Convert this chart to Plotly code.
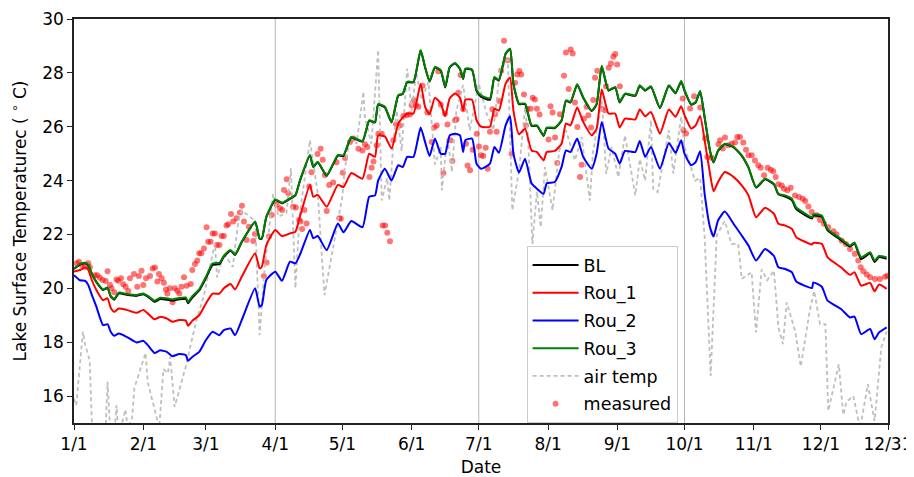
import plotly.graph_objects as go

# day of year (0 = 1/1)
days = [
    0, 2.7, 5, 6.4, 8, 10, 13, 15, 16.4, 18,
    20, 23.5, 28, 31, 33, 36, 38.5, 41.5, 44, 47,
    50, 51, 53, 56, 59, 62, 65, 67, 70, 72,
    75, 81, 83, 84, 86, 90, 93, 96.6, 99, 101,
    105.5, 107, 109, 113, 118, 120.5, 124, 129, 132, 134.6,
    136, 139, 142, 145, 147, 149, 151.8, 155, 157, 159,
    161.4, 164, 166, 168, 170.4, 172.6, 174, 175, 178, 180,
    182, 186, 188, 190, 193, 195, 196.5, 199, 201.7, 204.6,
    207, 210, 211.4, 215, 218, 220, 222, 225, 227.7, 231.5,
    233.7, 236, 239, 242, 244, 246.4, 251, 253, 255.4, 258,
    262, 266, 269, 271.5, 273, 276, 278, 280, 282, 284.4,
    286, 288, 291, 295, 298.6, 301.6, 305, 309, 313, 315,
    318, 321, 323, 330, 330.6, 334.4, 337, 343, 347, 349,
    352, 356, 358, 360, 363.4,
]
rou_3 = [
    20.74, 20.9, 20.95, 20.87, 20.55, 20.25, 19.96, 20.03, 19.72, 19.6,
    19.84, 19.79, 19.75, 19.81, 19.72, 19.54, 19.65, 19.63, 19.59, 19.64,
    19.66, 19.5, 19.72, 19.96, 20.43, 20.93, 20.95, 21.2, 21.42, 21.26,
    21.73, 22.48, 21.86, 21.86, 22.66, 23.3, 23.18, 23.34, 23.47, 24.0,
    24.95, 24.52, 24.7, 24.2, 24.95, 24.94, 25.62, 25.47, 26.24, 26.18,
    26.84, 26.74, 26.18, 27.17, 27.23, 27.67, 27.67, 28.85, 28.22, 27.7,
    28.22, 28.1, 27.48, 28.22, 28.37, 28.16, 27.79, 28.16, 28.13, 27.36,
    27.17, 27.05, 27.85, 27.73, 28.72, 28.9, 27.6, 26.86, 26.86, 26.05,
    26.05, 25.68, 25.97, 25.97, 26.24, 26.98, 26.92, 27.58, 27.1, 26.6,
    26.85, 28.26, 27.36, 27.48, 26.92, 27.23, 27.17, 27.54, 27.36, 27.5,
    26.71, 27.54, 27.26, 27.7, 27.36, 26.84, 26.92, 27.33, 26.36, 25.12,
    24.69, 25.12, 25.37, 25.25, 24.94, 24.5, 23.76, 24.07, 23.88, 23.51,
    23.45, 23.33, 23.0, 22.64, 22.75, 22.7, 22.2, 21.84, 21.59, 21.7,
    21.15, 21.34, 21.03, 21.2, 21.15,
]
bl = [
    20.72, 20.88, 20.93, 20.85, 20.53, 20.23, 19.94, 20.01, 19.7, 19.58,
    19.81, 19.76, 19.72, 19.78, 19.69, 19.5, 19.6, 19.58, 19.54, 19.59,
    19.61, 19.45, 19.67, 19.92, 20.38, 20.87, 20.9, 21.17, 21.4, 21.24,
    21.71, 22.46, 21.84, 21.84, 22.64, 23.28, 23.16, 23.32, 23.45, 23.98,
    24.93, 24.5, 24.68, 24.18, 24.93, 24.92, 25.6, 25.45, 26.22, 26.16,
    26.82, 26.72, 26.16, 27.15, 27.21, 27.65, 27.65, 28.83, 28.2, 27.68,
    28.2, 28.08, 27.46, 28.2, 28.35, 28.14, 27.77, 28.14, 28.11, 27.33,
    27.12, 27.0, 27.82, 27.71, 28.7, 28.88, 27.58, 26.84, 26.84, 26.03,
    26.03, 25.66, 25.95, 25.95, 26.22, 26.96, 26.9, 27.56, 27.08, 26.58,
    26.83, 28.24, 27.34, 27.46, 26.9, 27.21, 27.15, 27.52, 27.34, 27.48,
    26.69, 27.52, 27.24, 27.68, 27.34, 26.82, 26.9, 27.31, 26.34, 25.1,
    24.67, 25.1, 25.35, 25.23, 24.92, 24.48, 23.74, 24.05, 23.86, 23.49,
    23.41, 23.28, 22.94, 22.59, 22.7, 22.66, 22.15, 21.79, 21.55, 21.66,
    21.09, 21.29, 20.98, 21.16, 21.1,
]
rou_1 = [
    20.62, 20.68, 20.77, 20.68, 20.3, 19.94, 19.56, 19.63, 19.28, 19.13,
    19.25, 19.2, 19.09, 19.2, 19.07, 18.85, 18.94, 18.88, 18.76, 18.82,
    18.8, 18.61, 18.8, 19.0, 19.44, 19.8, 19.8, 20.0, 20.16, 19.96,
    20.43, 21.3, 20.74, 20.8, 21.6, 22.17, 21.94, 22.04, 22.1, 22.66,
    23.84, 23.4, 23.47, 23.03, 23.84, 23.76, 24.28, 24.07, 25.0, 24.88,
    25.68, 25.64, 25.19, 26.12, 26.34, 26.49, 26.49, 27.6, 26.74, 26.46,
    27.08, 26.86, 26.39, 27.05, 27.23, 27.08, 26.6, 27.0, 27.0, 26.24,
    26.0, 26.0, 26.67, 26.6, 27.6, 27.83, 26.6, 25.72, 25.93, 25.12,
    25.06, 24.75, 25.06, 25.1, 25.37, 26.12, 26.05, 26.71, 26.18, 25.68,
    25.93, 27.38, 26.49, 26.49, 25.97, 26.3, 26.27, 26.64, 26.39, 26.55,
    25.74, 26.64, 26.37, 26.76, 26.43, 25.93, 26.05, 26.4, 25.5, 24.26,
    23.6, 23.95, 24.32, 24.13, 23.82, 23.45, 22.64, 22.99, 22.77, 22.4,
    22.33, 22.21, 21.9, 21.63, 21.69, 21.65, 21.15, 20.78, 20.5, 20.6,
    20.1, 20.2, 19.89, 20.14, 19.98,
]
rou_2 = [
    20.49, 20.3, 20.28, 20.12, 19.75, 19.32, 18.63, 18.67, 18.39, 18.24,
    18.32, 18.2, 17.99, 18.05, 17.89, 17.6, 17.7, 17.64, 17.48, 17.56,
    17.52, 17.31, 17.46, 17.64, 18.08, 18.39, 18.26, 18.45, 18.51, 18.26,
    18.82, 20.0, 19.32, 19.38, 20.31, 20.62, 20.28, 20.99, 20.93, 21.24,
    22.17, 21.86, 21.94, 21.42, 22.41, 22.08, 22.5, 22.27, 23.4, 23.45,
    24.0, 24.44, 24.0, 24.57, 24.5, 24.88, 24.88, 25.97, 25.43, 24.91,
    25.56, 25.0, 25.0, 25.68, 25.74, 25.68, 25.06, 25.5, 25.56, 24.63,
    24.44, 24.63, 25.25, 25.03, 26.05, 26.39, 25.0, 24.3, 24.81, 23.9,
    23.7, 23.51, 23.9, 23.95, 24.5, 25.12, 25.06, 25.56, 24.88, 24.44,
    25.0, 26.18, 25.19, 25.0, 24.63, 25.1, 25.06, 25.47, 24.88, 25.25,
    24.44, 25.4, 25.03, 25.5, 25.0, 24.57, 24.69, 25.09, 23.51, 22.27,
    21.92, 22.52, 22.85, 22.39, 21.96, 21.59, 21.03, 21.46, 21.2, 20.78,
    20.72, 20.6, 20.25, 20.01, 20.22, 20.06, 19.54, 19.23, 18.92, 18.95,
    18.3, 18.49, 18.11, 18.36, 18.55,
]

air_days = [
    0, 1, 4, 5, 7, 8, 9, 14, 15, 16, 18, 19, 20, 23, 24, 26, 27, 32, 33, 37,
    38, 40, 42, 43, 45, 50, 53, 55, 58, 63, 64, 67, 71, 73.5, 75, 81, 83, 85, 89, 91.5,
    95, 97, 99, 101, 105.5, 109, 112, 114.5, 117.5, 120, 121, 123.4, 126.4, 129.4, 130, 133, 136, 137.6, 140, 141,
    143, 144.3, 146.5, 149, 151, 153, 155.5, 158.5, 161.4, 164, 164.5, 167, 169, 171, 174, 177, 181, 184.5, 187.5, 190.5,
    194, 196, 199, 201.7, 203, 205, 207, 208.7, 210.6, 214, 217, 220, 224, 227, 230.7, 232, 236, 238, 240.4, 243.4,
    246.4, 251, 253, 255.4, 258, 259, 261, 266, 268, 271.5, 273, 277.7, 280, 282, 284.7, 287.4, 291, 294, 297, 298.6,
    303, 305, 307.5, 310, 313, 315, 317, 318.7, 322.5, 325, 329, 331, 333.6, 336, 337.3, 342, 344, 345.5, 348.5, 351.5,
    355, 358, 361, 363.4,
]
air_temp = [
    15.9, 15.66, 18.39, 17.9, 17.33, 15.0, 14.5, 14.5, 16.53, 15.0, 14.5, 15.66, 14.5, 15.5, 14.8, 15.2, 16.3, 17.6, 16.5, 15.2,
    14.7, 17.0, 16.85, 17.46, 15.6, 17.1, 18.2, 18.9, 19.7, 21.67, 20.4, 21.3, 20.8, 22.5, 22.9, 22.5, 18.26, 20.55, 23.5, 22.66,
    22.8, 24.46, 20.0, 22.8, 25.5, 23.53, 19.75, 20.9, 22.4, 23.4, 24.4, 25.6, 25.37, 27.3, 26.4, 25.37, 28.85, 23.26, 24.1, 23.26,
    25.62, 26.6, 25.1, 28.16, 26.6, 28.0, 27.0, 27.67, 24.6, 25.25, 23.64, 25.62, 24.32, 26.6, 27.55, 25.87, 27.6, 26.5, 25.87, 28.1,
    28.5, 22.9, 24.38, 26.7, 25.7, 21.65, 23.6, 22.27, 24.5, 22.9, 25.1, 25.87, 24.75, 25.62, 23.26, 25.0, 27.0, 24.25, 25.25, 24.13,
    25.68, 23.45, 24.8, 24.0, 26.24, 23.7, 23.57, 25.87, 24.26, 26.37, 25.25, 24.0, 24.1, 21.9, 16.75, 21.96, 22.5, 21.65, 21.65, 20.35,
    20.6, 18.36, 20.7, 20.3, 20.66, 18.55, 17.93, 19.48, 18.4, 17.1, 19.17, 19.9, 18.67, 18.67, 15.45, 17.18, 15.3, 15.8, 16.0, 14.8,
    16.44, 15.07, 17.8, 18.4,
]

measured_days = [
    1.2, 2.2, 3.4, 4.9, 6.4, 7.1, 9.4, 10.4, 11.6, 12.8, 14.2, 15, 16.1, 16.8, 18, 19, 19.8, 21, 22, 23.1,
    24.3, 25, 26.8, 28.3, 29, 30.2, 31, 32.2, 34, 35.2, 36.2, 37.3, 38, 39.2, 40.2, 41.1, 41.7, 42.9, 44.1, 45.1,
    46.2, 47.1, 48.1, 49.2, 50.4, 52.2, 52.9, 54.1, 55.1, 56, 56.9, 58.1, 59.3, 60, 61.1, 62, 63, 63.8, 65, 66,
    67, 68.2, 69, 70.2, 71.2, 72.7, 74.2, 75.1, 76, 77.2, 78.2, 80.2, 80.9, 84.9, 86.1, 87.2, 88.4, 90.6, 92.1, 93.1,
    93.9, 95.1, 95.8, 98, 99.2, 100.7, 101.3, 102, 103, 104, 105.2, 106.2, 108.9, 110.3, 111.2, 112.2, 113, 114.1, 115.9, 117.4,
    118.6, 119.3, 120.2, 121.2, 123.4, 124.9, 127.2, 129, 130.1, 131.2, 132.1, 133.1, 133.9, 135.4, 136.1, 137.6, 138, 139.1, 140.1, 141.3,
    142.8, 144, 145.8, 147.3, 148.8, 150.3, 151, 152, 152.9, 154, 155.9, 158, 160, 161.1, 162.2, 162.9, 164, 165.2, 165.9, 167,
    168.4, 169.2, 170.4, 171.1, 171.9, 172.9, 174.1, 175.3, 176, 177.1, 178.3, 180.1, 181.1, 182, 183, 184.1, 185, 186, 187.1, 188.3,
    189, 190.2, 191, 192.3, 193.9, 195.7, 197.2, 198.2, 199.1, 200, 201.2, 202.1, 202.7, 204.2, 205.1, 206.1, 207, 208.2, 212.2, 213.1,
    214, 215.1, 216.1, 217.3, 219.1, 220, 221.2, 222.1, 223, 224, 225.1, 226.3, 227, 228, 229.2, 230, 231.2, 232.2, 233, 234,
    236, 237.4, 237.9, 239.1, 240.1, 241.2, 242, 242.9, 244.1, 272.2, 272.5, 273.7, 275.5, 277.3, 280, 282.2, 283.2, 285.2, 288.2, 288.9,
    290.1, 291.1, 292.6, 294.1, 295.6, 296.6, 297.8, 299.3, 300.5, 301.6, 303.1, 304.5, 306, 307.1, 308.6, 310.2, 311.6, 312.7, 313.8, 315,
    316.5, 317.5, 319, 320.5, 322.4, 324.2, 325.9, 327, 328.4, 329.9, 332.1, 333.6, 335.4, 337.3, 339.6, 341, 343.3, 345.2, 347, 349.2,
    350.7, 351.8, 353, 354.5, 356, 358.2, 360.4, 362.7, 363.8,
]
measured = [
    20.93, 20.99, 20.87, 20.8, 20.93, 20.78, 20.49, 20.49, 20.39, 20.31, 20.27, 20.63, 20.12, 20.0, 19.85, 20.33, 20.28, 20.37, 20.15, 20.06,
    19.9, 20.37, 20.53, 20.06, 20.46, 20.65, 20.12, 20.37, 20.46, 20.74, 20.77, 20.25, 20.53, 20.37, 20.21, 19.96, 19.81, 20.0, 19.48, 20.0,
    19.91, 19.81, 20.06, 20.41, 20.1, 20.16, 20.68, 20.9, 21.03, 21.3, 21.3, 21.48, 22.27, 21.73, 21.73, 22.04, 22.04, 21.61, 21.61, 21.94,
    21.94, 22.33, 22.38, 22.76, 22.48, 22.6, 22.82, 23.07, 22.48, 21.79, 22.29, 21.76, 22.02, 20.46, 20.96, 21.92, 22.72, 23.1, 22.97, 22.91,
    23.65, 24.05, 23.53, 23.03, 23.0, 22.54, 22.48, 22.2, 22.91, 22.41, 23.78, 24.31, 24.99, 25.18, 24.77, 24.21, 22.87, 23.84, 23.93, 24.68,
    22.6, 22.58, 24.29, 24.84, 25.43, 25.56, 25.18, 25.12, 25.35, 25.25, 24.13, 24.48, 24.71, 25.31, 25.74, 25.74, 22.33, 22.33, 22.06, 21.75,
    25.5, 26.09, 26.05, 26.4, 26.43, 26.46, 26.8, 26.98, 26.8, 26.74, 27.52, 26.53, 25.43, 25.97, 26.05, 28.06, 26.83, 24.28, 26.49, 26.08,
    25.5, 24.73, 26.24, 26.28, 27.26, 27.92, 26.65, 25.37, 24.56, 24.38, 25.15, 25.74, 25.27, 24.94, 24.91, 25.22, 24.44, 25.81, 26.65, 26.46,
    25.81, 26.96, 28.08, 29.19, 28.47, 25.0, 27.63, 27.94, 28.07, 27.94, 27.2, 26.05, 26.67, 26.67, 27.08, 27.01, 26.67, 26.45, 25.53, 26.76,
    26.53, 25.6, 24.65, 26.46, 27.89, 28.76, 27.4, 28.87, 28.72, 26.9, 25.99, 24.13, 24.59, 26.3, 26.74, 26.43, 25.97, 26.99, 27.82, 28.08,
    26.67, 26.61, 27.5, 28.19, 28.35, 28.6, 28.7, 28.31, 27.5, 27.05, 25.87, 25.75, 26.68, 27.13, 26.71, 25.56, 24.88, 24.85, 25.35, 25.5,
    25.19, 25.6, 25.31, 25.37, 25.41, 25.62, 25.62, 25.41, 25.15, 24.94, 24.94, 24.75, 24.57, 24.48, 24.2, 24.48, 24.4, 24.35, 24.13, 23.86,
    23.82, 23.7, 23.64, 23.73, 23.45, 23.39, 23.33, 23.24, 23.04, 22.83, 22.71, 22.54, 22.4, 22.27, 22.12, 22.0, 21.77, 21.65, 21.46, 21.28,
    21.03, 20.78, 20.63, 20.51, 20.41, 20.35, 20.35, 20.43, 20.47,
]

tick_days = [0, 31, 59, 90, 120, 151, 181, 212, 243, 273, 304, 334, 364]
tick_labels = ["1/1", "2/1", "3/1", "4/1", "5/1", "6/1", "7/1", "8/1", "9/1", "10/1", "11/1", "12/1", "12/31"]
vline_days = [90, 181, 273]

fig = go.Figure()

# draw order follows matplotlib: scatter under the lines, legend order kept with legendrank
fig.add_trace(go.Scatter(x=measured_days, y=measured, mode="markers", name="measured",
    marker=dict(color="red", size=6, opacity=0.55, line=dict(width=0)),
    legendgroup="g6", legendrank=6))
fig.add_trace(go.Scatter(x=air_days, y=air_temp, mode="lines", name="air temp",
    line=dict(color="#bfbfbf", width=1.8, dash="4px,3px"),
    legendgroup="g5", legendrank=5))
for name, vals, col, rank in [("BL", bl, "black", 1), ("Rou_1", rou_1, "red", 2),
                              ("Rou_2", rou_2, "blue", 3), ("Rou_3", rou_3, "green", 4)]:
    fig.add_trace(go.Scatter(x=days, y=vals, mode="lines", name=name,
        line=dict(color=col, width=2, shape="spline", smoothing=0.5),
        legendgroup=f"g{rank}", legendrank=rank))

for d in vline_days:
    fig.add_shape(type="line", x0=d, x1=d, y0=0, y1=1, yref="y domain",
        line=dict(color="#b5b5b5", width=1), layer="below")

axis = dict(showgrid=False, zeroline=False, showline=True, mirror=True, linecolor="#222222",
    linewidth=1.5, ticks="outside", ticklen=5, tickwidth=1.2, tickcolor="#222222",
    tickfont=dict(size=17, color="black"))
fig.update_xaxes(range=[0, 364], tickmode="array", tickvals=tick_days, ticktext=tick_labels,
    title=dict(text="Date", font=dict(size=17, color="black"), standoff=11), **axis)
fig.update_yaxes(range=[15, 30], tickmode="array", tickvals=list(range(16, 31, 2)),
    title=dict(text="Lake Surface Temperaturec ( <sup>∘</sup> C)", font=dict(size=17, color="black"), standoff=11), **axis)

# the page keeps an 8px body margin, so the figure is 8px smaller than the window
fig.update_layout(width=906, height=469, margin=dict(l=66, r=26, t=11, b=54, autoexpand=False),
    paper_bgcolor="white", plot_bgcolor="white",
    font=dict(family="DejaVu Sans", color="black"),
    showlegend=True,
    legend=dict(x=0.556, y=0.0, xanchor="left", yanchor="bottom",
        bgcolor="rgba(255,255,255,0.8)", bordercolor="#cccccc", borderwidth=1,
        font=dict(size=17.5), itemwidth=46, tracegroupgap=2,
        itemsizing="trace", traceorder="grouped"))

fig.write_html("out.html")
